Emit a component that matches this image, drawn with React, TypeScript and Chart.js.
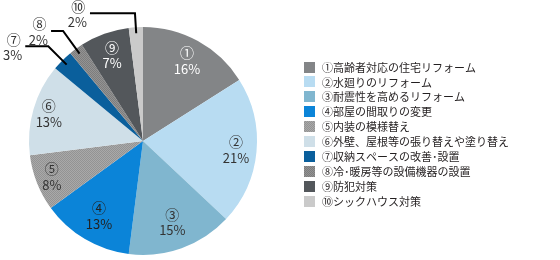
import React, { useEffect, useRef } from "react";
import { Chart, registerables } from "chart.js";

Chart.register(...registerables);

const categories = [
  "①高齢者対応の住宅リフォーム",
  "②水廻りのリフォーム",
  "③耐震性を高めるリフォーム",
  "④部屋の間取りの変更",
  "⑤内装の模様替え",
  "⑥外壁、屋根等の張り替えや塗り替え",
  "⑦収納スペースの改善･設置",
  "⑧冷･暖房等の設備機器の設置",
  "⑨防犯対策",
  "⑩シックハウス対策",
];
const shares = [16, 21, 15, 13, 8, 13, 3, 2, 7, 2];

const FONT = "'Noto Sans CJK JP', 'Noto Sans', sans-serif";

function makePattern(a: string, b: string): CanvasPattern | string {
  const c = document.createElement("canvas");
  c.width = 2;
  c.height = 2;
  const g = c.getContext("2d");
  if (!g) return a;
  g.fillStyle = a;
  g.fillRect(0, 0, 2, 2);
  g.fillStyle = b;
  g.fillRect(0, 0, 1, 1);
  g.fillRect(1, 1, 1, 1);
  const ctx = document.createElement("canvas").getContext("2d");
  return (ctx && ctx.createPattern(c, "repeat")) || a;
}

// style only
const labelColor = ["#ffffff", "#333", "#333", "#222", "#333", "#333", "#333", "#333", "#ffffff", "#333"];
const labelDist = [0.8, 0.82, 0.76, 0.76, 0.86, 0.86, 0, 0, 0.8, 0];
const outsideHoriz: Record<number, number> = { 6: 23, 7: 12, 9: 45 };
const outsideExt: Record<number, number> = { 6: 20, 7: 22, 9: 14 };

export default function App() {
  const ref = useRef<HTMLCanvasElement>(null);
  useEffect(() => {
    if (!ref.current) return;
    const colors: (string | CanvasPattern)[] = [
      "#838587",
      "#b8dcf2",
      "#80b6cf",
      "#0b84d8",
      makePattern("#a9a9a9", "#939393"),
      "#cfdfe8",
      "#0a5f9c",
      makePattern("#939393", "#7d7d7d"),
      "#53575b",
      "#cacaca",
    ];

    const plugin = {
      id: "labelsLegend",
      afterDraw(chart: any) {
        const ctx = chart.ctx as CanvasRenderingContext2D;
        const meta = chart.getDatasetMeta(0);
        const ds = chart.data.datasets[0];
        ctx.save();
        ctx.textAlign = "center";
        ctx.textBaseline = "middle";
        meta.data.forEach((arc: any, i: number) => {
          const p = arc.getProps(["x", "y", "startAngle", "endAngle", "outerRadius"], true);
          const mid = (p.startAngle + p.endAngle) / 2;
          const mark = categories[i].charAt(0);
          const pct = ds.data[i] + "%";
          if (outsideHoriz[i] !== undefined) {
            const r0 = p.outerRadius - 6;
            const r1 = p.outerRadius + outsideExt[i];
            const sx = p.x + Math.cos(mid) * r0;
            const sy = p.y + Math.sin(mid) * r0;
            const ex = p.x + Math.cos(mid) * r1;
            const ey = p.y + Math.sin(mid) * r1;
            const hx = ex - outsideHoriz[i];
            ctx.strokeStyle = "#000";
            ctx.lineWidth = 2;
            ctx.beginPath();
            ctx.moveTo(sx, sy);
            ctx.lineTo(ex, ey);
            ctx.lineTo(hx, ey);
            ctx.stroke();
            ctx.font = `13px ${FONT}`;
            const w = ctx.measureText(pct).width;
            const cx = hx - 3 - w / 2;
            ctx.fillStyle = "#333";
            ctx.fillText(pct, cx, ey + 9);
            ctx.font = `14px ${FONT}`;
            ctx.fillText(mark, cx + 1, ey - 7);
          } else {
            const r = p.outerRadius * labelDist[i];
            const cx = p.x + Math.cos(mid) * r;
            const cy = p.y + Math.sin(mid) * r;
            ctx.fillStyle = labelColor[i];
            ctx.font = `14px ${FONT}`;
            ctx.fillText(mark, cx, cy - 8);
            ctx.font = `13px ${FONT}`;
            ctx.fillText(pct, cx, cy + 8);
          }
        });
        // legend
        ctx.textAlign = "left";
        ctx.font = `11px ${FONT}`;
        chart.data.labels.forEach((lab: string, i: number) => {
          const y = 67 + i * 14.9;
          ctx.fillStyle = ds.backgroundColor[i];
          ctx.fillRect(304, Math.round(y - 5.5), 11, 11);
          ctx.fillStyle = "#231f20";
          ctx.fillText(lab, 322, y + 0.5);
        });
        ctx.restore();
      },
    };

    const chart = new Chart(ref.current, {
      type: "pie",
      data: {
        labels: categories,
        datasets: [
          {
            data: shares,
            backgroundColor: colors as any,
            borderWidth: 0,
          },
        ],
      },
      options: {
        responsive: false,
        animation: false,
        layout: { padding: { left: 29, top: 27, right: 303, bottom: 5 } },
        plugins: { legend: { display: false }, tooltip: { enabled: false } },
      },
      plugins: [plugin],
    });
    return () => chart.destroy();
  }, []);
  return (
    <div style={{ position: "fixed", left: 0, top: 0, width: 560, height: 260, background: "#fff" }}>
      <canvas ref={ref} width={560} height={260} />
    </div>
  );
}
